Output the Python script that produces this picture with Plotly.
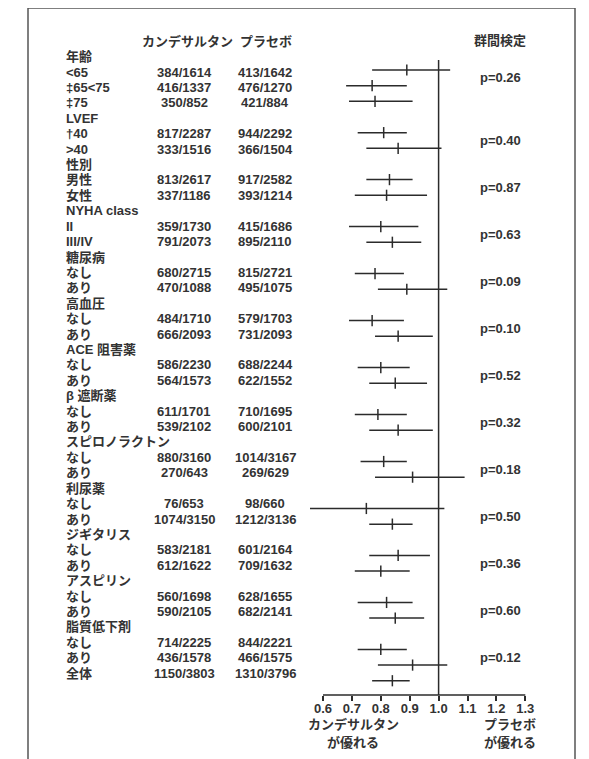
import plotly.graph_objects as go

# ---------------- data ----------------
group_names = ["年齢", "LVEF", "性別", "NYHA class", "糖尿病", "高血圧", "ACE 阻害薬",
               "β 遮断薬", "スピロノラクトン", "利尿薬", "ジギタリス", "アスピリン", "脂質低下剤"]
sub_labels = [["<65", "‡65<75", "‡75"], ["†40", ">40"], ["男性", "女性"], ["II", "III/IV"],
              ["なし", "あり"], ["なし", "あり"], ["なし", "あり"], ["なし", "あり"],
              ["なし", "あり"], ["なし", "あり"], ["なし", "あり"], ["なし", "あり"], ["なし", "あり"]]
cand_counts = [["384/1614", "416/1337", "350/852"], ["817/2287", "333/1516"], ["813/2617", "337/1186"],
               ["359/1730", "791/2073"], ["680/2715", "470/1088"], ["484/1710", "666/2093"],
               ["586/2230", "564/1573"], ["611/1701", "539/2102"], ["880/3160", "270/643"],
               ["76/653", "1074/3150"], ["583/2181", "612/1622"], ["560/1698", "590/2105"],
               ["714/2225", "436/1578"]]
plac_counts = [["413/1642", "476/1270", "421/884"], ["944/2292", "366/1504"], ["917/2582", "393/1214"],
               ["415/1686", "895/2110"], ["815/2721", "495/1075"], ["579/1703", "731/2093"],
               ["688/2244", "622/1552"], ["710/1695", "600/2101"], ["1014/3167", "269/629"],
               ["98/660", "1212/3136"], ["601/2164", "709/1632"], ["628/1655", "682/2141"],
               ["844/2221", "466/1575"]]
hr = [[0.89, 0.77, 0.78], [0.81, 0.86], [0.83, 0.82], [0.80, 0.84], [0.78, 0.89], [0.77, 0.86],
      [0.80, 0.85], [0.79, 0.86], [0.81, 0.91], [0.75, 0.84], [0.86, 0.80], [0.82, 0.85], [0.80, 0.91]]
ci_lo = [[0.77, 0.68, 0.69], [0.72, 0.75], [0.75, 0.71], [0.69, 0.75], [0.71, 0.79], [0.69, 0.78],
         [0.72, 0.76], [0.71, 0.76], [0.73, 0.78], [0.555, 0.76], [0.76, 0.71], [0.72, 0.76], [0.72, 0.79]]
ci_hi = [[1.04, 0.89, 0.91], [0.89, 1.01], [0.91, 0.96], [0.93, 0.94], [0.88, 1.03], [0.88, 0.98],
         [0.90, 0.96], [0.89, 0.98], [0.89, 1.09], [1.02, 0.91], [0.97, 0.90], [0.91, 0.95], [0.89, 1.03]]
p_values = ["p=0.26", "p=0.40", "p=0.87", "p=0.63", "p=0.09", "p=0.10", "p=0.52",
            "p=0.32", "p=0.18", "p=0.50", "p=0.36", "p=0.60", "p=0.12"]
overall_label = "全体"
overall_cand = "1150/3803"
overall_plac = "1310/3796"
overall_hr, overall_lo, overall_hi = 0.84, 0.77, 0.90

header_cand = "カンデサルタン"
header_plac = "プラセボ"
header_p = "群間検定"
tick_vals = [0.6, 0.7, 0.8, 0.9, 1.0, 1.1, 1.2, 1.3]
tick_text = ["0.6", "0.7", "0.8", "0.9", "1.0", "1.1", "1.2", "1.3"]
left_note = ["カンデサルタン", "が優れる"]
right_note = ["プラセボ", "が優れる"]

# ---------------- layout constants ----------------
OX, OY = 8, 8            # page body margin offset
W, H = 589 - OX, 759 - OY
FONT = "Liberation Sans, Arial, Noto Sans CJK JP, sans-serif"
TXT = "#333333"
LINE = "#2b2b2b"
FS = 13

def px(x):
    return (x - OX) / W

def py(y):
    return 1 - (y - OY) / H

# build rows
rows = []
p_rows = []
for g, name in enumerate(group_names):
    rows.append((name, "", "", None, None, None))
    first = len(rows)
    for k, lab in enumerate(sub_labels[g]):
        rows.append((lab, cand_counts[g][k], plac_counts[g][k], hr[g][k], ci_lo[g][k], ci_hi[g][k]))
    p_rows.append(first + 0.5)
rows.append((overall_label, overall_cand, overall_plac, overall_hr, overall_lo, overall_hi))

fig = go.Figure()

lx, ly, mx, my = [], [], [], []
for i, r in enumerate(rows):
    if r[3] is None:
        continue
    lx += [r[4], r[5], None]
    ly += [i, i, None]
    mx.append(r[3])
    my.append(i)

fig.add_trace(go.Scatter(x=lx, y=ly, mode="lines", xaxis="x", yaxis="y2",
                         line=dict(color=LINE, width=1.5), hoverinfo="skip", showlegend=False))
fig.add_trace(go.Scatter(x=mx, y=my, mode="markers", xaxis="x", yaxis="y2",
                         marker=dict(symbol="line-ns-open", size=8, color=LINE,
                                     line=dict(color=LINE, width=1.5)),
                         showlegend=False))

ann = []
def add(text, x, y, xref="paper", yref="y", xanchor="center", size=FS):
    ann.append(dict(text=text, x=x, y=y, xref=xref, yref=yref, xanchor=xanchor, yanchor="middle",
                    showarrow=False, font=dict(family=FONT, size=size, color=TXT, weight="bold")))

for i, r in enumerate(rows):
    add(r[0], px(64), i, xanchor="left")
    if r[1]:
        add(r[1], px(184), i)
        add(r[2], px(265), i)

for p, yr in zip(p_values, p_rows):
    add(p, px(500), yr, yref="y2")

add(header_cand, px(187), -1)
add(header_plac, px(266), -1)
add(header_p, px(500), -1.05)

add(left_note[0], px(353), py(724), yref="paper")
add(left_note[1], px(353), py(742), yref="paper")
add(right_note[0], px(510), py(724), yref="paper")
add(right_note[1], px(510), py(742), yref="paper")

axis_y = py(695)
shapes = [
    dict(type="line", xref="x", yref="paper", x0=tick_vals[0], x1=tick_vals[-1], y0=axis_y, y1=axis_y,
         line=dict(color=LINE, width=1.5)),
    dict(type="line", xref="x", yref="paper", x0=1.0, x1=1.0, y0=py(60), y1=axis_y,
         line=dict(color=LINE, width=1.5)),
    dict(type="path", xref="paper", yref="paper",
         path=f"M {px(28)},-0.05 L {px(28)},{py(8)} L {px(575)},{py(8)} L {px(575)},-0.05",
         line=dict(color="#555555", width=1.5)),
]

# x: 0.6 -> 323 px, 289 px per unit ; rows: text & forest scales
x_lo = 0.6 - (323 - OX) / 289.0
x_hi = 0.6 + (589 - 323) / 289.0
t_top = -(56.7 - OY) / 15.41
t_bot = (759 - 56.7) / 15.41
f_top = -(54.34 - OY) / 15.66
f_bot = (759 - 54.34) / 15.66

fig.update_layout(
    width=W, height=H, margin=dict(l=0, r=0, t=0, b=0),
    paper_bgcolor="white", plot_bgcolor="white",
    xaxis=dict(range=[x_lo, x_hi], domain=[0, 1], anchor="free", position=axis_y,
               tickvals=tick_vals, ticktext=tick_text, ticks="outside", ticklen=5, tickwidth=1.5,
               ticklabelstandoff=-4,
               tickcolor=LINE, showline=False, showgrid=False, zeroline=False,
               tickfont=dict(family=FONT, size=FS, color=TXT, weight="bold")),
    yaxis=dict(range=[t_bot, t_top], domain=[0, 1], visible=False, showgrid=False, zeroline=False),
    yaxis2=dict(range=[f_bot, f_top], domain=[0, 1], overlaying="y", visible=False,
                showgrid=False, zeroline=False),
    annotations=ann, shapes=shapes, showlegend=False,
)

fig.write_html("out.html")
